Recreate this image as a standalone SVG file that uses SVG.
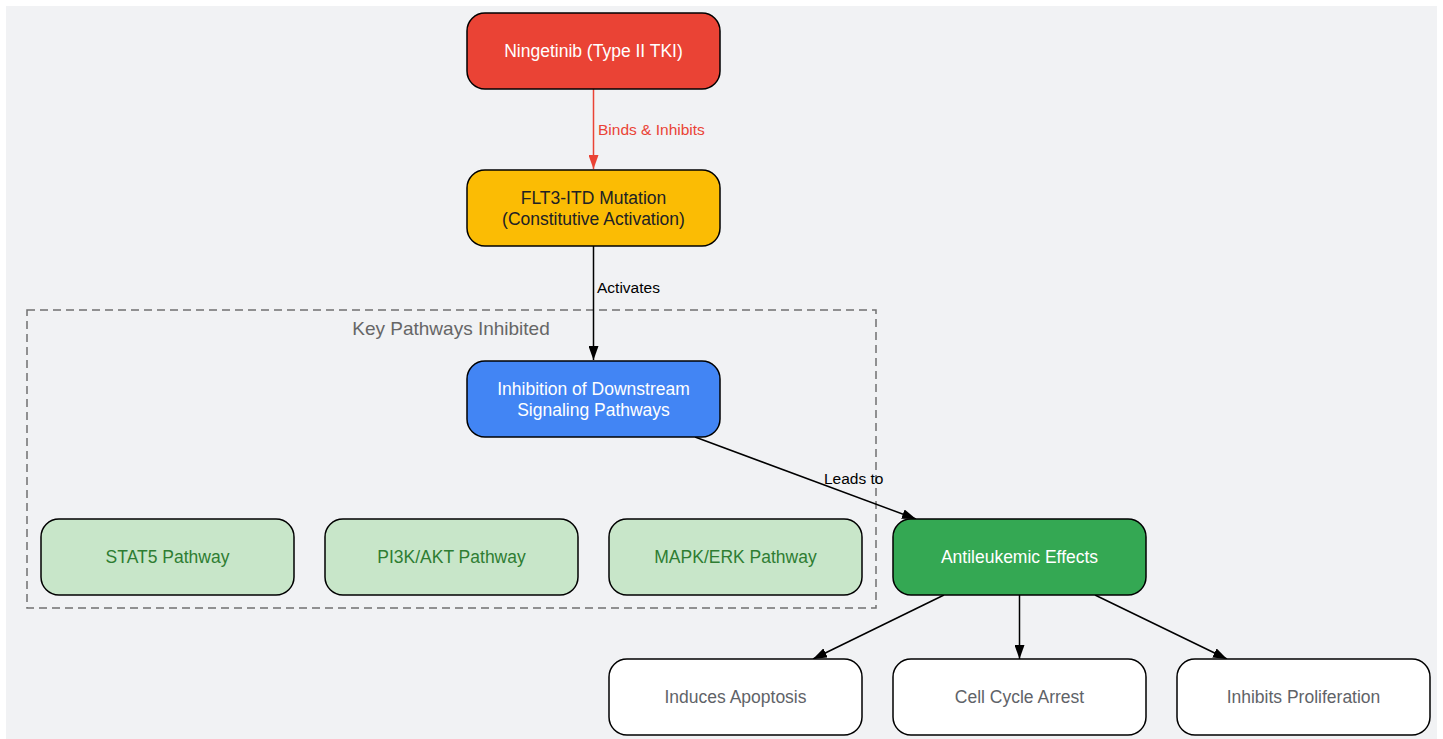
<svg xmlns="http://www.w3.org/2000/svg" width="1443" height="739" viewBox="0 0 1443 739">
<style>
text{font-family:"Liberation Sans",Arial,sans-serif;text-anchor:middle}
.n{stroke:#000;stroke-width:1.5}
.t{font-size:17.5px;dominant-baseline:central}
.e{stroke:#000;stroke-width:1.5;fill:none}
.el{font-size:15.5px;text-anchor:start}
</style>
<defs>
<marker id="ab" viewBox="0 0 14 10" refX="14" refY="5" markerWidth="14" markerHeight="10" markerUnits="userSpaceOnUse" orient="auto"><path d="M0,0L14,5L0,10z" fill="#000"/></marker>
<marker id="ar" viewBox="0 0 14 10" refX="14" refY="5" markerWidth="14" markerHeight="10" markerUnits="userSpaceOnUse" orient="auto"><path d="M0,0L14,5L0,10z" fill="#ea4335"/></marker>
</defs>
<rect x="0" y="0" width="1443" height="739" fill="#fff"/>
<rect x="6" y="6" width="1431" height="733" fill="#f1f2f4"/>
<g id="cluster">
<rect x="27" y="310" width="849" height="298" fill="none" stroke="#707070" stroke-width="1.5" stroke-dasharray="8,5"/>
<text x="451" y="335" font-size="19" fill="#666">Key Pathways Inhibited</text>
</g>
<g id="edges">
<path class="e" d="M593.5,89V169" style="stroke:#ea4335" marker-end="url(#ar)"/>
<text class="el" x="598" y="135" fill="#ea4335">Binds &amp; Inhibits</text>
<path class="e" d="M593.5,246V360" marker-end="url(#ab)"/>
<text class="el" x="597" y="293" fill="#000">Activates</text>
<path class="e" d="M695,437L916,519" marker-end="url(#ab)"/>
<text class="el" x="824" y="484" fill="#000">Leads to</text>
<path class="e" d="M944,595L813,659" marker-end="url(#ab)"/>
<path class="e" d="M1019.5,595V659" marker-end="url(#ab)"/>
<path class="e" d="M1095,595L1227,659" marker-end="url(#ab)"/>
</g>
<g id="ningetinib"><rect class="n" x="467" y="13" width="253" height="76" rx="18" fill="#ea4335"/><text class="t" x="593.5" y="51" fill="#fff">Ningetinib (Type II TKI)</text></g>
<g id="flt3"><rect class="n" x="467" y="170" width="253" height="76" rx="18" fill="#fbbc04"/><text class="t" x="593.5" y="198" fill="#202124">FLT3-ITD Mutation</text><text class="t" x="593.5" y="219" fill="#202124">(Constitutive Activation)</text></g>
<g id="inhibition"><rect class="n" x="467" y="361" width="253" height="76" rx="18" fill="#4285f4"/><text class="t" x="593.5" y="389" fill="#fff">Inhibition of Downstream</text><text class="t" x="593.5" y="410" fill="#fff">Signaling Pathways</text></g>
<g id="stat5"><rect class="n" x="41" y="519" width="253" height="76" rx="18" fill="#c8e6c9"/><text class="t" x="167.5" y="557" fill="#2e7d32">STAT5 Pathway</text></g>
<g id="pi3k"><rect class="n" x="325" y="519" width="253" height="76" rx="18" fill="#c8e6c9"/><text class="t" x="451.5" y="557" fill="#2e7d32">PI3K/AKT Pathway</text></g>
<g id="mapk"><rect class="n" x="609" y="519" width="253" height="76" rx="18" fill="#c8e6c9"/><text class="t" x="735.5" y="557" fill="#2e7d32">MAPK/ERK Pathway</text></g>
<g id="antileukemic"><rect class="n" x="893" y="519" width="253" height="76" rx="18" fill="#34a853"/><text class="t" x="1019.5" y="557" fill="#fff">Antileukemic Effects</text></g>
<g id="apoptosis"><rect class="n" x="609" y="659" width="253" height="76" rx="18" fill="#fff"/><text class="t" x="735.5" y="697" fill="#5f6368">Induces Apoptosis</text></g>
<g id="cellcycle"><rect class="n" x="893" y="659" width="253" height="76" rx="18" fill="#fff"/><text class="t" x="1019.5" y="697" fill="#5f6368">Cell Cycle Arrest</text></g>
<g id="proliferation"><rect class="n" x="1177" y="659" width="253" height="76" rx="18" fill="#fff"/><text class="t" x="1303.5" y="697" fill="#5f6368">Inhibits Proliferation</text></g>
</svg>
